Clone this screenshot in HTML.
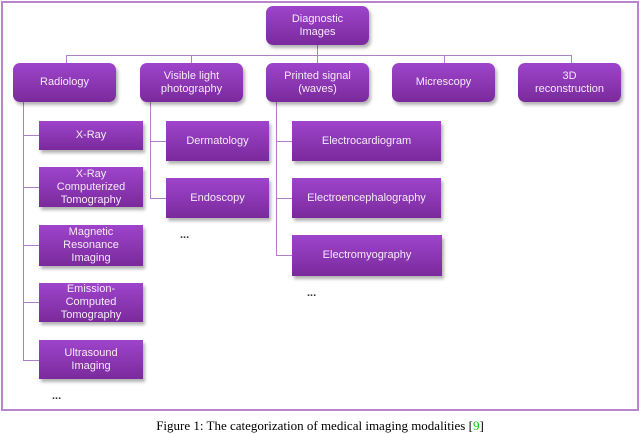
<!DOCTYPE html>
<html><head><meta charset="utf-8"><style>
body{margin:0;width:640px;height:426px;background:#fff;position:relative;overflow:hidden;font-family:"Liberation Sans",sans-serif}
.frame{position:absolute;left:1px;top:1px;width:634px;height:406px;border:2px solid #b884cc}
.b{position:absolute;display:flex;align-items:center;justify-content:center;text-align:center;color:#f4eaf8;font-size:11px;line-height:13px;background:linear-gradient(#9e44cc,#7a2a9c);box-shadow:2px 3px 3px rgba(0,0,0,.3)}
.r{border-radius:7px}
.l{position:absolute;background:#b07fc4}
.d{position:absolute;font-size:11px;font-weight:bold;color:#333}
.cap{position:absolute;top:418px;left:0;width:640px;text-align:center;font-family:"Liberation Serif",serif;font-size:13px;color:#000}
</style></head><body>
<div class="frame"></div>
<div class="l" style="left:317px;top:45px;width:1px;height:10px"></div>
<div class="l" style="left:66px;top:55px;width:506px;height:1px"></div>
<div class="l" style="left:66px;top:55px;width:1px;height:8px"></div>
<div class="l" style="left:191px;top:55px;width:1px;height:8px"></div>
<div class="l" style="left:317px;top:55px;width:1px;height:8px"></div>
<div class="l" style="left:444px;top:55px;width:1px;height:8px"></div>
<div class="l" style="left:571px;top:55px;width:1px;height:8px"></div>
<div class="l" style="left:23px;top:102px;width:1px;height:258px"></div>
<div class="l" style="left:23px;top:135px;width:16px;height:1px"></div>
<div class="l" style="left:23px;top:187px;width:16px;height:1px"></div>
<div class="l" style="left:23px;top:245px;width:16px;height:1px"></div>
<div class="l" style="left:23px;top:302px;width:16px;height:1px"></div>
<div class="l" style="left:23px;top:360px;width:16px;height:1px"></div>
<div class="l" style="left:150px;top:102px;width:1px;height:96px"></div>
<div class="l" style="left:150px;top:141px;width:16px;height:1px"></div>
<div class="l" style="left:150px;top:198px;width:16px;height:1px"></div>
<div class="l" style="left:276px;top:102px;width:1px;height:153px"></div>
<div class="l" style="left:276px;top:141px;width:16px;height:1px"></div>
<div class="l" style="left:276px;top:198px;width:16px;height:1px"></div>
<div class="l" style="left:276px;top:255px;width:16px;height:1px"></div>
<div class="b r" style="left:266px;top:6px;width:103px;height:39px">Diagnostic<br>Images</div>
<div class="b r" style="left:13px;top:63px;width:103px;height:39px">Radiology</div>
<div class="b r" style="left:140px;top:63px;width:103px;height:39px">Visible light<br>photography</div>
<div class="b r" style="left:266px;top:63px;width:103px;height:39px">Printed signal<br>(waves)</div>
<div class="b r" style="left:392px;top:63px;width:103px;height:39px">Micrescopy</div>
<div class="b r" style="left:518px;top:63px;width:103px;height:39px">3D<br>reconstruction</div>
<div class="b" style="left:39px;top:121px;width:104px;height:29px">X-Ray</div>
<div class="b" style="left:39px;top:167px;width:104px;height:40px">X-Ray<br>Computerized<br>Tomography</div>
<div class="b" style="left:39px;top:225px;width:104px;height:41px">Magnetic<br>Resonance<br>Imaging</div>
<div class="b" style="left:39px;top:283px;width:104px;height:39px">Emission-<br>Computed<br>Tomography</div>
<div class="b" style="left:39px;top:340px;width:104px;height:39px">Ultrasound<br>Imaging</div>
<div class="b" style="left:166px;top:121px;width:103px;height:40px">Dermatology</div>
<div class="b" style="left:166px;top:178px;width:103px;height:40px">Endoscopy</div>
<div class="b" style="left:292px;top:121px;width:149px;height:40px">Electrocardiogram</div>
<div class="b" style="left:292px;top:178px;width:149px;height:40px">Electroencephalography</div>
<div class="b" style="left:292px;top:235px;width:150px;height:41px">Electromyography</div>
<div class="d" style="left:180px;top:229px">...</div>
<div class="d" style="left:307px;top:287px">...</div>
<div class="d" style="left:52px;top:390px">...</div>
<div class="cap">Figure 1: The categorization of medical imaging modalities [<span style="color:#0c0">9</span>]</div>
</body></html>
